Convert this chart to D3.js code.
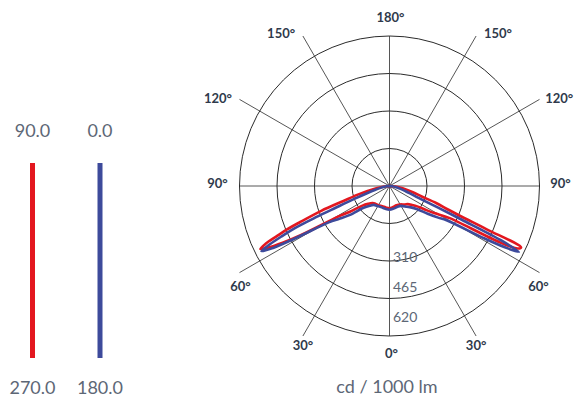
<!DOCTYPE html>
<html>
<head>
<meta charset="utf-8">
<script src="https://cdn.jsdelivr.net/npm/d3@7"></script>
<style>
  html, body { margin: 0; padding: 0; background: #fff; }
  svg { display: block; font-family: Lato, "Noto Sans", sans-serif; }
</style>
</head>
<body>
<div id="chart"></div>
<script>
// gamma angles (degrees from nadir) shared by all four half-planes
var gammas = [0, 10, 20, 30, 40, 45, 50, 54, 57, 59, 61, 62, 63, 64, 65, 66, 67, 68, 70, 72, 75, 80, 85, 90];

// cd / 1000 lm
var c90  = [92, 88, 85, 88, 100, 106, 122, 145, 185, 219, 255, 285, 520, 590, 600, 440, 320, 265, 205, 140, 100, 55, 25, 0];
var c270 = [92, 90, 89, 92, 94, 100, 115, 138, 195, 240, 420, 500, 560, 594, 565, 510, 462, 400, 300, 200, 130, 55, 22, 0];
var c0   = [98, 95, 92, 95, 112, 125, 150, 195, 240, 275, 440, 540, 600, 520, 330, 220, 150, 120, 90, 70, 50, 28, 12, 0];
var c180 = [98, 96, 94, 96, 102, 115, 140, 205, 250, 290, 450, 545, 594, 550, 490, 430, 330, 240, 150, 100, 60, 30, 12, 0];

var ringValues = [155, 310, 465, 620];
var ringLabels = [310, 465, 620];
var spokeAngles = [0, 30, 60, 90, 120, 150, 180, 210, 240, 270, 300, 330];
var angleLabels = ["0°", "30°", "60°", "90°", "120°", "150°", "180°", "150°", "120°", "90°", "60°", "30°"];
var legendTop = ["90.0", "0.0"];
var legendBottom = ["270.0", "180.0"];
var unitLabel = "cd / 1000 lm";

var width = 574, height = 399;
var cx = 389.5, cy = 186;
var red = "#e3171f", blue = "#3d4a9b";
var gridColor = "#2b2b2b", textDark = "#2f3a4b", textGrey = "#5d6776";

var svg = d3.select("#chart").append("svg")
  .attr("width", width)
  .attr("height", height);

var r = d3.scaleLinear().domain([0, 620]).range([0, 150]);
// label placement for the ring values on the nadir axis
var ringLabelY = d3.scaleLinear().domain([310, 620]).range([76, 136]);

var g = svg.append("g").attr("transform", `translate(${cx},${cy})`);

// rings
g.selectAll("circle.ring")
  .data(ringValues)
  .enter()
  .append("circle")
    .attr("class", "ring")
    .attr("r", d => r(d))
    .attr("fill", "none")
    .attr("stroke", gridColor)
    .attr("stroke-width", 1);

// spokes (angle measured from nadir, going clockwise on screen to the left)
function polar(angleDeg, rad) {
  var a = angleDeg * Math.PI / 180;
  return [-rad * Math.sin(a), rad * Math.cos(a)];
}
function spokeLen(d) {
  return d % 90 === 0 ? r(620) : r(620) / Math.cos(Math.PI / 6);
}
g.selectAll("line.spoke")
  .data(spokeAngles)
  .enter()
  .append("line")
    .attr("class", "spoke")
    .attr("x1", 0).attr("y1", 0)
    .attr("x2", d => polar(d, spokeLen(d))[0])
    .attr("y2", d => polar(d, spokeLen(d))[1])
    .attr("stroke", gridColor)
    .attr("stroke-width", 0.8);

// angle labels, offset from the spoke ends
var labelOffsets = {
  0: [2, 17], 30: [0, 9], 60: [1, 14], 90: [-22, -2.7], 120: [-21.5, -1.2], 150: [-21.8, -2.7],
  180: [1, -19], 210: [21.8, -2.7], 240: [19.7, -1.2], 270: [21, -2.7], 300: [-1, 14], 330: [0, 9]
};
g.selectAll("text.ang")
  .data(spokeAngles)
  .enter()
  .append("text")
    .attr("class", "ang")
    .attr("x", d => polar(d, spokeLen(d))[0] + labelOffsets[d][0])
    .attr("y", d => polar(d, spokeLen(d))[1] + labelOffsets[d][1])
    .attr("dy", "0.36em")
    .attr("text-anchor", "middle")
    .attr("font-size", 13)
    .attr("font-weight", 700)
    .attr("fill", textDark)
    .text((d, i) => angleLabels[i]);

// ring value labels
g.selectAll("text.rv")
  .data(ringLabels)
  .enter()
  .append("text")
    .attr("class", "rv")
    .attr("x", 3.5)
    .attr("y", d => ringLabelY(d))
    .attr("font-size", 14)
    .attr("fill", textGrey)
    .text(d => d);

// curves: left half from 90 down to 0, then right half 0 to 90
function curvePoints(left, right) {
  var pts = [];
  for (var i = gammas.length - 1; i >= 0; i--) pts.push([Math.PI + gammas[i] * Math.PI / 180, r(left[i])]);
  for (var j = 1; j < gammas.length; j++) pts.push([Math.PI - gammas[j] * Math.PI / 180, r(right[j])]);
  return pts;
}
var line = d3.lineRadial()
  .angle(d => d[0])
  .radius(d => d[1])
  .curve(d3.curveCatmullRom.alpha(0.5));

g.append("path")
  .attr("d", line(curvePoints(c270, c90)))
  .attr("fill", "none")
  .attr("stroke", red)
  .attr("stroke-width", 2.6)
  .attr("stroke-linejoin", "round");

g.append("path")
  .attr("d", line(curvePoints(c180, c0)))
  .attr("fill", "none")
  .attr("stroke", blue)
  .attr("stroke-width", 2.6)
  .attr("stroke-linejoin", "round");

// unit label
svg.append("text")
  .attr("x", 387).attr("y", 393)
  .attr("text-anchor", "middle")
  .attr("font-size", 18)
  .attr("fill", textGrey)
  .text(unitLabel);

// legend
var legendX = d3.scalePoint().domain([0, 1]).range([32.5, 100]);
var legendColors = [red, blue];
var lg = svg.append("g");
lg.selectAll("line")
  .data([0, 1])
  .enter()
  .append("line")
    .attr("x1", d => legendX(d)).attr("x2", d => legendX(d))
    .attr("y1", 163).attr("y2", 358)
    .attr("stroke", d => legendColors[d])
    .attr("stroke-width", 5);
lg.selectAll("text.top")
  .data([0, 1])
  .enter()
  .append("text")
    .attr("class", "top")
    .attr("x", d => legendX(d)).attr("y", 136.5)
    .attr("text-anchor", "middle")
    .attr("font-size", 18)
    .attr("fill", textGrey)
    .text(d => legendTop[d]);
lg.selectAll("text.bot")
  .data([0, 1])
  .enter()
  .append("text")
    .attr("class", "bot")
    .attr("x", d => legendX(d)).attr("y", 393.5)
    .attr("text-anchor", "middle")
    .attr("font-size", 18)
    .attr("fill", textGrey)
    .text(d => legendBottom[d]);
</script>
</body>
</html>
